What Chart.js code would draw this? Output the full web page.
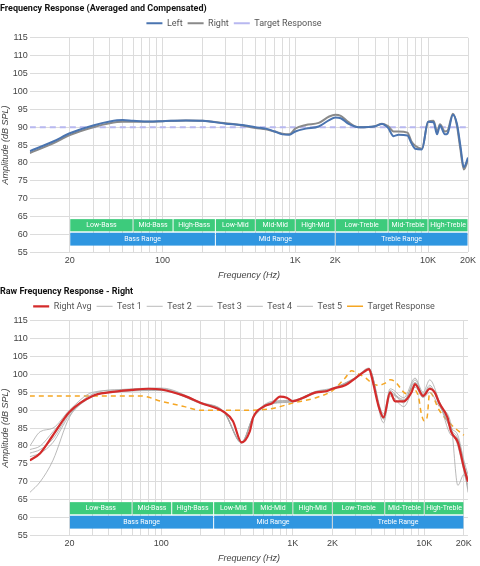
<!DOCTYPE html>
<html><head><meta charset="utf-8">
<script src="https://cdn.jsdelivr.net/npm/chart.js@4"></script>
<style>
body{margin:0;background:#fff;font-family:Roboto,Arial,sans-serif}
.c{position:relative;width:480px;height:283px}
</style></head><body>
<div class="c"><canvas id="c1"></canvas></div>
<div class="c"><canvas id="c2"></canvas></div>
<script>
// ---- data ----
const topFreq=[10,15,20,30,40,50,60,80,100,150,200,300,400,500,600,700,800,900,1000,1200,1500,1800,2000,2200,2500,3000,4000,4500,5000,5500,6000,7000,7500,8000,9000,10000,11000,11700,12300,13400,14000,15400,16500,17500,18600,20000];
const leftVals=[83.3,86,88.3,90.5,91.6,92,91.8,91.6,91.7,91.9,91.8,91,90.6,90,89.6,88.8,88,87.9,88.8,89.6,90.2,92,92.7,92.5,91,90,90.3,90.9,89.8,87.5,87.9,87.7,85.5,84,83.8,91.5,91.4,88,90.5,88,88.2,93.5,91,85,78.8,81.5];
const rightVals=[82.8,85.5,87.8,90,91.1,91.5,91.5,91.5,91.7,91.9,91.8,91.1,90.5,89.8,89.4,88.8,88.2,88,89.6,90.6,91.2,93,93.5,93.2,91.5,90,90.3,91,90.3,88.8,88.8,88.5,86,84.8,84,91.5,91.8,88.8,90.8,88.8,89,93.8,90.5,84,78.2,80.8];
const topTarget=[90,90];
const targetFreqTop=[10,20000];

const avgFreq=[10,12,15,20,30,40,60,80,100,150,200,300,350,408,470,500,600,700,800,900,1000,1200,1500,1800,2000,2500,3000,3500,3800,4000,4500,4900,5500,6000,7000,8000,8500,9800,11000,12000,13000,15000,16000,18000,20000,21500];
const avgVals=[76,78,83,89.5,94,95,95.7,96,95.8,94,92,89.5,87,81,84,88,91,92,93.8,93.5,92.5,93.5,95,95.3,96,97,99,100.8,101.5,99,91,88,95,92.5,92.5,95,97.3,94,96,95,92,88,84,81,74,70];
const testFreq=[10,12,15,20,30,50,100,200,300,408,500,700,1000,1500,2000,3000,3800,4900,5500,7000,8500,9800,11000,13000,16000,18000,20000,21500];
const test1=[67,70,76,88,94.5,95.8,96.2,92.2,89.6,81.2,88.2,92.5,92.8,95.2,96,99.2,101.8,86.5,94,91,96.5,93.5,95,91,86,69,72,68];
const test2=[79,80,84,89,94,95.2,95.5,91.8,89.3,80.8,87.8,91.8,92.3,94.8,95.8,98.8,101.3,89,96,93.5,99,95,98.5,92.5,83,82,75,71];
const test3=[80,84,85,90,95,95.7,96,92,89.5,81,88,92.3,92.7,95.3,96.2,99.1,101.6,87.5,95.5,92,98.5,94.5,97,91.5,84.5,80,73,69];
const test4=[78,79,82,89,94,95.4,95.7,92.1,89.4,80.9,88.1,92.1,92.4,95.1,95.9,98.9,101.4,88.5,94.8,93,97,94,96,92.5,85,83,76,72];
const test5=[77,78,81,88.5,93.8,95.3,95.6,91.9,89.4,81,87.9,92,92.5,94.9,96,99,101.5,87.8,94.5,92.7,97.8,94.2,96.5,92,84.5,82,75,67];
const tgtFreq=[10,20,50,70,100,150,200,300,500,700,1000,1500,2000,2500,2800,3200,3600,4000,4500,5000,5500,6000,7000,7500,8000,9000,9500,10000,10500,11000,13000,16000,20000];
const tgtVals=[94,94,94,94,92.5,91,90,90,90,90.5,92,93.5,95.5,99,101,100,99,97.5,97,97.5,98.5,98,95,94.5,96,94,89,87,88,95,90,86,83];

const bandNames=['Low-Bass','Mid-Bass','High-Bass','Low-Mid','Mid-Mid','High-Mid','Low-Treble','Mid-Treble','High-Treble'];
const bandEdges=[20,60,120,250,500,1000,2000,5000,10000,20000];
const rangeNames=['Bass Range','Mid Range','Treble Range'];
const rangeEdges=[20,250,2000,20000];
const tickVals=[20,30,40,50,60,70,80,90,100,200,300,400,500,600,700,800,900,1000,2000,3000,4000,5000,6000,7000,8000,9000,10000,20000];
const tickLabels={20:'20',100:'100',1000:'1K',2000:'2K',10000:'10K',20000:'20K'};

const pts=(f,v)=>f.map((x,i)=>({x,y:v[i]}));

const bandsPlugin={id:'bands',beforeDatasetsDraw(ch){
  const {ctx,scales:{x,y}}=ch;
  const row=(names,edges,y0,y1,col)=>{
    const t=y.getPixelForValue(y1),b=y.getPixelForValue(y0);
    names.forEach((n,i)=>{
      const l=x.getPixelForValue(edges[i])+0.5,r=Math.min(x.getPixelForValue(edges[i+1]),x.right)-0.5;
      ctx.fillStyle=col;ctx.fillRect(l,t,r-l,b-t);
      ctx.fillStyle='#fff';ctx.font='7px Roboto, Arial';ctx.textAlign='center';ctx.textBaseline='middle';
      ctx.fillText(n,(l+r)/2,(t+b)/2);
    });
  };
  ctx.save();
  row(bandNames,bandEdges,60.9,64.3,'#3dcb7c');
  row(rangeNames,rangeEdges,56.9,60.5,'#2f96e0');
  ctx.restore();
}};

function opts(title,xmax){return{
  responsive:true,maintainAspectRatio:false,animation:false,
  layout:{padding:{left:0,right:12,top:0,bottom:0}},
  elements:{point:{radius:0},line:{cubicInterpolationMode:'monotone'}},
  plugins:{
    title:{display:true,text:title,align:'start',color:'#111',font:{size:9,weight:'bold',family:'Roboto, Arial'},padding:{top:3,bottom:0}},
    legend:{display:true,labels:{usePointStyle:true,pointStyle:'line',pointStyleWidth:16,color:'#555',font:{size:9,family:'Roboto, Arial'},padding:5,boxHeight:5}},
    tooltip:{enabled:false}},
  scales:{
    x:{type:'logarithmic',min:10,max:xmax,
      afterBuildTicks:(s)=>{s.ticks=tickVals.map(v=>({value:v}));},
      ticks:{autoSkip:false,maxRotation:0,color:'#444',font:{size:9},padding:3,callback:(v)=>tickLabels[v]||''},
      grid:{color:'#dcdcdc',drawTicks:false},border:{display:false},
      title:{display:true,text:'Frequency (Hz)',color:'#444',font:{size:9,style:'italic'},padding:{top:1,bottom:2}}},
    y:{min:55,max:115,ticks:{stepSize:5,color:'#444',font:{size:9},padding:2},
      grid:{color:'#dcdcdc',drawTicks:false},border:{display:false},
      title:{display:true,text:'Amplitude (dB SPL)',color:'#444',font:{size:9,style:'italic'},padding:{top:0,bottom:0}}}
  }}}

new Chart(document.getElementById('c1'),{type:'line',plugins:[bandsPlugin],data:{datasets:[
  {label:'Left',data:pts(topFreq,leftVals),borderColor:'#4a74b0',borderWidth:2},
  {label:'Right',data:pts(topFreq,rightVals),borderColor:'#8a8a8a',borderWidth:2},
  {label:'Target Response',data:pts(targetFreqTop,topTarget),borderColor:'#b8b8f0',borderWidth:2,borderDash:[6,4]}
]},options:opts('Frequency Response (Averaged and Compensated)',20000)});

new Chart(document.getElementById('c2'),{type:'line',plugins:[bandsPlugin],data:{datasets:[
  {label:'Right Avg',data:pts(avgFreq,avgVals),borderColor:'#d42b2b',borderWidth:2.2},
  {label:'Test 1',data:pts(testFreq,test1),borderColor:'#a8a8a8',borderWidth:0.8},
  {label:'Test 2',data:pts(testFreq,test2),borderColor:'#a8a8a8',borderWidth:0.8},
  {label:'Test 3',data:pts(testFreq,test3),borderColor:'#a8a8a8',borderWidth:0.8},
  {label:'Test 4',data:pts(testFreq,test4),borderColor:'#a8a8a8',borderWidth:0.8},
  {label:'Test 5',data:pts(testFreq,test5),borderColor:'#a8a8a8',borderWidth:0.8},
  {label:'Target Response',data:pts(tgtFreq,tgtVals),borderColor:'#f5a623',borderWidth:1.5,borderDash:[5,4]}
]},options:opts('Raw Frequency Response - Right',21500)});
</script></body></html>
